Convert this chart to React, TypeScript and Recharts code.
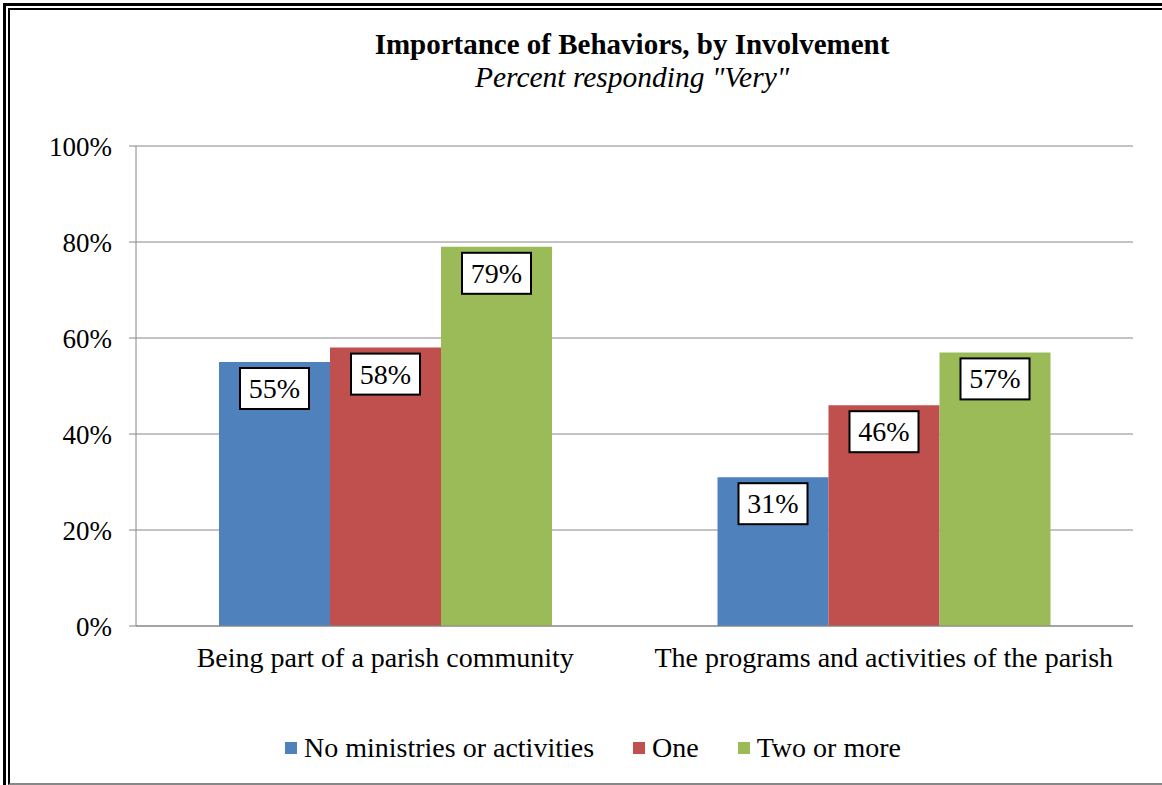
import React from 'react';
import { BarChart, Bar, XAxis, YAxis, CartesianGrid, LabelList } from 'recharts';

const categories = ['Being part of a parish community', 'The programs and activities of the parish'];
const noneValues = [55, 31];
const oneValues = [58, 46];
const twoPlusValues = [79, 57];
const yTicks = [0, 20, 40, 60, 80, 100];
const seriesNames = ['No ministries or activities', 'One', 'Two or more'];
const seriesColors = ['#4F81BD', '#C0504D', '#9BBB59'];

const data = categories.map((c, i) => ({
  name: c,
  idx: i + 0.5,
  none: noneValues[i],
  one: oneValues[i],
  two: twoPlusValues[i],
}));

const FONT = '"Liberation Serif", "Times New Roman", serif';

const BoxLabel = (props: any) => {
  const { x, y, width, value } = props;
  const cx = x + width / 2;
  const bw = 69;
  const bh = 41;
  const top = y + 6;
  return (
    <g>
      <rect x={cx - bw / 2} y={top} width={bw} height={bh} fill="#fff" stroke="#000" strokeWidth={2} />
      <text x={cx} y={top + bh / 2} textAnchor="middle" dominantBaseline="central" fontFamily={FONT} fontSize={28} fill="#000">
        {value}%
      </text>
    </g>
  );
};

export default function App() {
  return (
    <div style={{ position: 'absolute', left: 0, top: 0, width: 1162, height: 785, overflow: 'hidden', background: '#fff', fontFamily: FONT }}>
      <div style={{ position: 'absolute', left: 3, top: 3, width: 1200, height: 800, borderLeft: '3px solid #000', borderTop: '3px solid #000' }} />
      <div style={{ position: 'absolute', left: 8, top: 8, width: 1200, height: 773, borderLeft: '2px solid #000', borderTop: '2px solid #000', borderBottom: '2px solid #888' }} />
      <div style={{ position: 'absolute', left: 632, top: 27, transform: 'translateX(-50%)', whiteSpace: 'nowrap', fontWeight: 'bold', fontSize: 29, lineHeight: '34px', color: '#000' }}>
        Importance of Behaviors, by Involvement
      </div>
      <div style={{ position: 'absolute', left: 632, top: 60, transform: 'translateX(-50%)', whiteSpace: 'nowrap', fontStyle: 'italic', fontSize: 29.5, lineHeight: '34px', color: '#000' }}>
        Percent responding "Very"
      </div>
      <div style={{ position: 'absolute', left: 0, top: 0 }}>
        <BarChart
          width={1162}
          height={785}
          data={data}
          margin={{ top: 146, right: 29, left: 0, bottom: 99 }}
          barCategoryGap="16.65%"
          barGap={0}
        >
          <CartesianGrid vertical={false} stroke="#868686" strokeWidth={1} />
          <XAxis
            dataKey="name"
            xAxisId="cat"
            height={60}
            tickLine={false}
            tickSize={0}
            tickMargin={21}
            axisLine={{ stroke: '#868686' }}
            tick={{ fontFamily: FONT, fontSize: 28, fill: '#000' }}
            interval={0}
          />
          <XAxis
            xAxisId="edges"
            type="number"
            dataKey="idx"
            domain={[0, 2]}
            ticks={[0, 1, 2]}
            height={0}
            axisLine={false}
            tick={false}
            tickSize={7}
            tickLine={{ stroke: '#868686' }}
          />
          <YAxis
            width={136}
            domain={[0, 100]}
            ticks={yTicks}
            tickFormatter={(v: number) => `${v}%`}
            tickSize={7}
            tickMargin={17}
            axisLine={{ stroke: '#868686' }}
            tickLine={{ stroke: '#868686' }}
            tick={{ fontFamily: FONT, fontSize: 27, fill: '#000' }}
          />
          <Bar dataKey="none" xAxisId="cat" name={seriesNames[0]} fill={seriesColors[0]} isAnimationActive={false}>
            <LabelList dataKey="none" content={BoxLabel} />
          </Bar>
          <Bar dataKey="one" xAxisId="cat" name={seriesNames[1]} fill={seriesColors[1]} isAnimationActive={false}>
            <LabelList dataKey="one" content={BoxLabel} />
          </Bar>
          <Bar dataKey="two" xAxisId="cat" name={seriesNames[2]} fill={seriesColors[2]} isAnimationActive={false}>
            <LabelList dataKey="two" content={BoxLabel} />
          </Bar>
        </BarChart>
      </div>
      <div style={{ position: 'absolute', left: 285, top: 731, display: 'flex', fontSize: 28, lineHeight: '34px', whiteSpace: 'nowrap', color: '#000' }}>
        {seriesNames.map((n, i) => (
          <div key={n} style={{ display: 'flex', alignItems: 'center', marginRight: i < 2 ? 39 : 0 }}>
            <span style={{ display: 'inline-block', width: 12, height: 12, background: seriesColors[i], marginRight: 7 }} />
            <span>{n}</span>
          </div>
        ))}
      </div>
    </div>
  );
}
